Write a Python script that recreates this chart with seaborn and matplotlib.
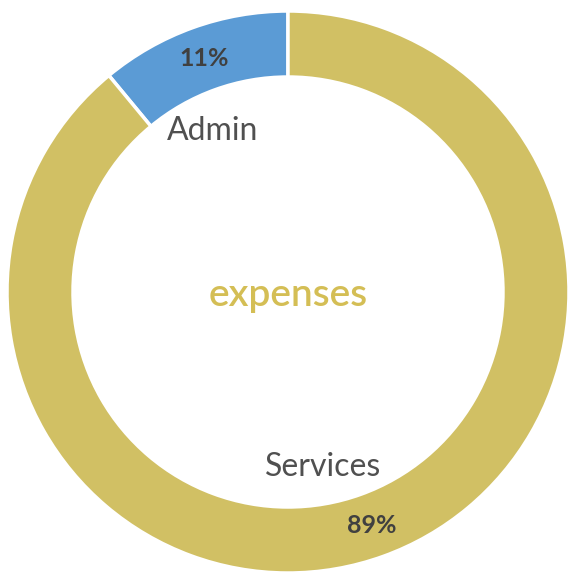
import numpy as np
import matplotlib
matplotlib.use('Agg')
import matplotlib.pyplot as plt
import seaborn as sns

# Datos
categories = ['Admin', 'Services']
shares = [11, 89]
pct_labels = ['11%', '89%']
colors = ['#5B9BD5', '#D1C064']

sns.set_theme(style='white')
plt.rcParams['font.family'] = ['Lato', 'DejaVu Sans']

fig = plt.figure(figsize=(5.68, 5.72), dpi=100)
ax = fig.add_axes([0, 0, 1, 1])

R = 281
wedges, _ = ax.pie(shares, colors=colors, startangle=90, counterclock=True,
                   radius=R, center=(0, 0),
                   wedgeprops=dict(width=66, edgecolor='white', linewidth=2.5))

# porcentajes en el centro del anillo
start = 90
for w, p in zip(shares, pct_labels):
    mid = np.deg2rad(start + w * 3.6 / 2)
    ax.text(248 * np.cos(mid), 248 * np.sin(mid), p, ha='center', va='center',
            fontsize=18, fontweight='bold', color='#404040')
    start += w * 3.6

# nombres de categoría dentro del anillo
name_pos = {'Admin': (115, 178), 'Services': (-78.7, 178)}
for c in categories:
    a, r = name_pos[c]
    ax.text(r * np.cos(np.deg2rad(a)), r * np.sin(np.deg2rad(a)), c,
            ha='center', va='center', fontsize=23, fontweight='normal',
            color='#505050')

ax.text(0, -3, 'expenses', ha='center', va='center', fontsize=28,
        color='#D4BE55', fontweight='semibold')

ax.set_xlim(-288, 280)
ax.set_ylim(-280, 292)
ax.set_aspect('equal')
ax.axis('off')

plt.savefig('out.png', dpi=100)
